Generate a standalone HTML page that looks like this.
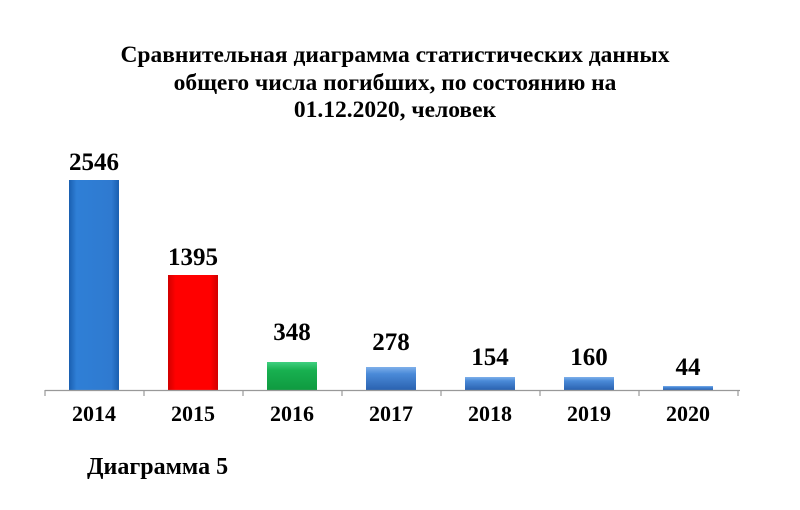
<!DOCTYPE html>
<html><head><meta charset="utf-8"><style>
body{margin:0;background:#fff;width:800px;height:505px;overflow:hidden}
svg text{font-family:"Liberation Serif",serif;font-weight:bold;fill:#000}
</style></head><body>
<svg width="800" height="505" xmlns="http://www.w3.org/2000/svg">
<defs>
<linearGradient id="b" x1="0" x2="1"><stop offset="0" stop-color="#1a5fb0"/><stop offset="0.15" stop-color="#2f7fd6"/><stop offset="0.85" stop-color="#2f7ad0"/><stop offset="1" stop-color="#1a5fb0"/></linearGradient>
<linearGradient id="r" x1="0" x2="1"><stop offset="0" stop-color="#d00000"/><stop offset="0.15" stop-color="#ff0000"/><stop offset="0.85" stop-color="#ff0000"/><stop offset="1" stop-color="#d00000"/></linearGradient>
<linearGradient id="g" x1="0" x2="0" y1="0" y2="1"><stop offset="0" stop-color="#40d080"/><stop offset="0.3" stop-color="#18b050"/><stop offset="1" stop-color="#0f9a40"/></linearGradient>
<linearGradient id="b2" x1="0" x2="0" y1="0" y2="1"><stop offset="0" stop-color="#7fb0ea"/><stop offset="0.3" stop-color="#4a8ad8"/><stop offset="1" stop-color="#2a62b0"/></linearGradient>
</defs>
<g font-size="23.5" text-anchor="middle">
<text x="395" y="62">Сравнительная диаграмма статистических данных</text>
<text x="395" y="90">общего числа погибших, по состоянию на</text>
<text x="395" y="117">01.12.2020, человек</text>
</g>
<rect x="69" y="180" width="50" height="210" fill="url(#b)"/>
<rect x="168" y="275" width="50" height="115" fill="url(#r)"/>
<rect x="267" y="362" width="50" height="28" fill="url(#g)"/>
<rect x="366" y="367" width="50" height="23" fill="url(#b2)"/>
<rect x="465" y="377" width="50" height="13" fill="url(#b2)"/>
<rect x="564" y="377" width="50" height="13" fill="url(#b2)"/>
<rect x="663" y="386" width="50" height="4" fill="url(#b2)"/>
<g stroke="#999" stroke-width="1.2">
<line x1="45" y1="390.5" x2="740" y2="390.5"/>
<line x1="45" y1="390" x2="45" y2="396"/><line x1="144" y1="390" x2="144" y2="396"/><line x1="243" y1="390" x2="243" y2="396"/><line x1="342" y1="390" x2="342" y2="396"/><line x1="441" y1="390" x2="441" y2="396"/><line x1="540" y1="390" x2="540" y2="396"/><line x1="639" y1="390" x2="639" y2="396"/><line x1="738" y1="390" x2="738" y2="396"/>
</g>
<g font-size="25" text-anchor="middle">
<text x="94" y="170">2546</text><text x="193" y="265">1395</text><text x="292" y="340">348</text><text x="391" y="350">278</text><text x="490" y="365">154</text><text x="589" y="365">160</text><text x="688" y="375">44</text>
</g>
<g font-size="22" text-anchor="middle">
<text x="94" y="421">2014</text><text x="193" y="421">2015</text><text x="292" y="421">2016</text><text x="391" y="421">2017</text><text x="490" y="421">2018</text><text x="589" y="421">2019</text><text x="688" y="421">2020</text>
</g>
<text x="87" y="474" font-size="24">Диаграмма 5</text>
</svg>
</body></html>
